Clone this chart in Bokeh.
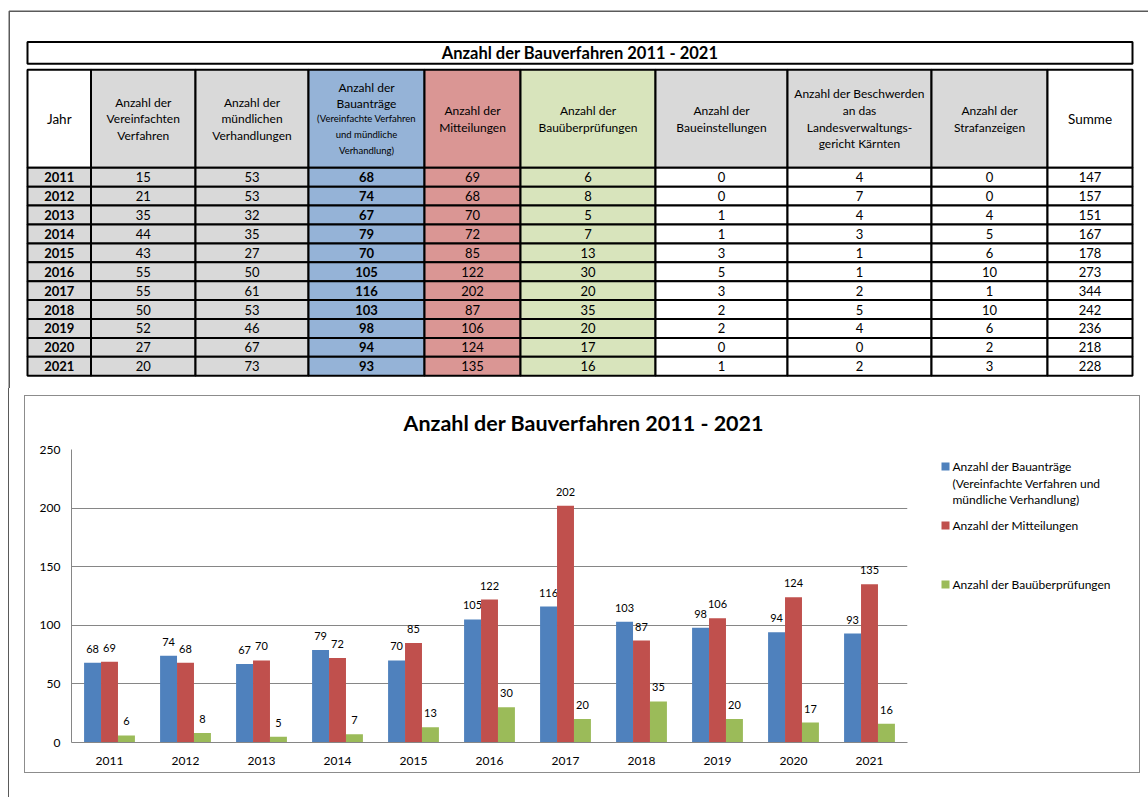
from bokeh.plotting import figure
from bokeh.models import (Range1d, ColumnDataSource, FactorRange, FixedTicker, Title)
from bokeh.transform import dodge
from bokeh.layouts import column, row
from bokeh.core.properties import value
from bokeh.embed import file_html
from bokeh.resources import INLINE

# ---------------- data ----------------
years = [2011, 2012, 2013, 2014, 2015, 2016, 2017, 2018, 2019, 2020, 2021]
vereinfacht = [15, 21, 35, 44, 43, 55, 55, 50, 52, 27, 20]
muendlich = [53, 53, 32, 35, 27, 50, 61, 53, 46, 67, 73]
bauantraege = [68, 74, 67, 79, 70, 105, 116, 103, 98, 94, 93]
mitteilungen = [69, 68, 70, 72, 85, 122, 202, 87, 106, 124, 135]
ueberpruefungen = [6, 8, 5, 7, 13, 30, 20, 35, 20, 17, 16]
einstellungen = [0, 0, 1, 1, 3, 5, 3, 2, 2, 0, 1]
beschwerden = [4, 7, 4, 3, 1, 1, 2, 5, 4, 0, 2]
strafanzeigen = [0, 0, 4, 5, 6, 10, 1, 10, 6, 2, 3]
summe = [147, 157, 151, 167, 178, 273, 344, 242, 236, 218, 228]

title_text = "Anzahl der Bauverfahren 2011 - 2021"
header_labels = [
    ["Jahr"],
    ["Anzahl der", "Vereinfachten", "Verfahren"],
    ["Anzahl der", "mündlichen", "Verhandlungen"],
    ["Anzahl der", "Bauanträge"],
    ["Anzahl der", "Mitteilungen"],
    ["Anzahl der", "Bauüberprüfungen"],
    ["Anzahl der", "Baueinstellungen"],
    ["Anzahl der Beschwerden", "an das", "Landesverwaltungs-", "gericht Kärnten"],
    ["Anzahl der", "Strafanzeigen"],
    ["Summe"],
]
header_sub = ["(Vereinfachte Verfahren", "und mündliche", "Verhandlung)"]
legend_labels = [["Anzahl der Bauanträge", "(Vereinfachte Verfahren und", "mündliche Verhandlung)"],
                 ["Anzahl der Mitteilungen"],
                 ["Anzahl der Bauüberprüfungen"]]

# ---------------- style / layout ----------------
FONT = "Lato"
WA, HA = 1148, 388
GRAY = "#D9D9D9"
BLUE_C = "#95B3D7"
RED_C = "#DA9694"
GREEN_C = "#D8E4BC"
WHITE = "#FFFFFF"
BAR_BLUE = "#4F81BD"
BAR_RED = "#C0504D"
BAR_GREEN = "#9BBB59"
FRAME_C = "#5a5a5a"
GRID_C = "#868686"

col_edges = [27, 90.5, 195, 308, 424, 520, 655, 787, 931, 1047, 1132]
title_top, title_bot = 41.5, 63.3
hdr_top, hdr_bot = 69.3, 167.3
row_h = 18.9
hdr_fill = [WHITE, GRAY, GRAY, BLUE_C, RED_C, GREEN_C, GRAY, GRAY, GRAY, WHITE]
row_fill = [GRAY, GRAY, GRAY, BLUE_C, RED_C, GREEN_C, WHITE, WHITE, WHITE, WHITE]

table_cols = [years, vereinfacht, muendlich, bauantraege, mitteilungen,
              ueberpruefungen, einstellungen, beschwerden, strafanzeigen, summe]

# ---------------- table figure ----------------
ta = figure(width=WA, height=HA, x_range=Range1d(0, WA), y_range=Range1d(HA, 0),
            x_axis_type=None, y_axis_type=None, output_backend="svg",
            toolbar_location=None, min_border=0, outline_line_color=None)

# page frame (left and top)
ta.line(x=[8.75, 8.75, WA], y=[HA, 10.7, 10.7], line_color=FRAME_C, line_width=1.5)

# title box
ta.quad(left=[col_edges[0]], right=[col_edges[-1]], top=[title_top], bottom=[title_bot],
        fill_color=WHITE, line_color="black", line_width=2)
ta.text(x=[(col_edges[0] + col_edges[-1]) / 2], y=[(title_top + title_bot) / 2 + 0.5], text=[title_text],
        text_align="center", text_baseline="middle", text_font=value(FONT),
        text_font_style="bold", text_font_size="16.5px", text_color="black")

cl, cr, ct, cb, cf = [], [], [], [], []
for j in range(10):
    cl.append(col_edges[j]); cr.append(col_edges[j + 1]); ct.append(hdr_top); cb.append(hdr_bot)
    cf.append(hdr_fill[j])
for i in range(len(years)):
    for j in range(10):
        cl.append(col_edges[j]); cr.append(col_edges[j + 1])
        ct.append(hdr_bot + row_h * i); cb.append(hdr_bot + row_h * (i + 1))
        cf.append(row_fill[j])
ta.quad(left=cl, right=cr, top=ct, bottom=cb, fill_color=cf, line_color="black", line_width=2)

# header texts
hx, hy, ht, hs = [], [], [], []
hmid = (hdr_top + hdr_bot) / 2
for j, lines in enumerate(header_labels):
    xc = (col_edges[j] + col_edges[j + 1]) / 2
    if j == 3:
        all_lines = lines + header_sub
        sp = 15.7
        sizes = ["12px", "12px", "9.5px", "9.5px", "9.5px"]
    else:
        all_lines = lines
        sp = 16.7
        sizes = ["13.5px" if len(lines) == 1 else "12px"] * len(lines)
    n = len(all_lines)
    for k, t in enumerate(all_lines):
        hx.append(xc); hy.append(hmid + (k - (n - 1) / 2) * sp); ht.append(t); hs.append(sizes[k])
ta.text(x=hx, y=hy, text=ht, text_font_size=hs, text_align="center", text_baseline="middle",
        text_font=value(FONT), text_color="black")

# data texts
nx, ny, nt = [], [], []
bx, by, bt = [], [], []
for i in range(len(years)):
    yc = hdr_bot + row_h * (i + 0.5)
    for j in range(10):
        xc = (col_edges[j] + col_edges[j + 1]) / 2
        if j in (0, 3):
            bx.append(xc); by.append(yc); bt.append(str(table_cols[j][i]))
        else:
            nx.append(xc); ny.append(yc); nt.append(str(table_cols[j][i]))
ta.text(x=nx, y=ny, text=nt, text_align="center", text_baseline="middle",
        text_font=value(FONT), text_font_size="13px", text_color="black")
ta.text(x=bx, y=by, text=bt, text_align="center", text_baseline="middle",
        text_font=value(FONT), text_font_size="13px", text_font_style="bold", text_color="black")

# ---------------- chart figure ----------------
WB, HB = 892, 376
FL, FR, FT, FB = 46, 882, 53, 346
cats = [str(y) for y in years]
src = ColumnDataSource(dict(
    year=cats, antraege=bauantraege, mitt=mitteilungen, ueber=ueberpruefungen,
    l_a=[str(v) for v in bauantraege], l_m=[str(v) for v in mitteilungen],
    l_u=[str(v) for v in ueberpruefungen]))

ch = figure(width=WB, height=HB, x_range=FactorRange(factors=cats, range_padding=0),
            y_range=Range1d(0, 250), output_backend="svg", toolbar_location=None,
            min_border_left=FL, min_border_right=WB - FR, min_border_top=FT,
            min_border_bottom=HB - FB, outline_line_color=None)

ch.title = Title(text=title_text, align="left", offset=332, standoff=24, vertical_align="top",
                 text_font=FONT, text_font_size="21.5px", text_font_style="bold",
                 text_color="black")

bw = 0.223
series = [("antraege", "l_a", -bw, BAR_BLUE), ("mitt", "l_m", 0.0, BAR_RED), ("ueber", "l_u", bw, BAR_GREEN)]
for col, lab, off, colr in series:
    ch.vbar(x=dodge("year", off, range=ch.x_range), top=col, width=bw, source=src,
            fill_color=colr, line_color=None)
    ch.text(x=dodge("year", off, range=ch.x_range), y=col, text=lab, source=src,
            text_align="center", text_baseline="middle", y_offset=-14,
            text_font=value(FONT), text_font_size="11px", text_color="black")

ch.yaxis.ticker = FixedTicker(ticks=[0, 50, 100, 150, 200, 250])
for ax in (ch.xaxis, ch.yaxis):
    ax.major_tick_line_color = None
    ax.minor_tick_line_color = None
    ax.major_tick_out = 0
    ax.major_tick_in = 0
    ax.axis_line_color = GRID_C
    ax.major_label_text_font = FONT
    ax.major_label_text_font_size = "12px"
    ax.major_label_text_color = "black"
ch.yaxis.major_label_standoff = 11
ch.xaxis.major_label_standoff = 14
ch.xgrid.grid_line_color = None
ch.ygrid.grid_line_color = GRID_C

# ---------------- legend panel ----------------
WC = 1114 - WB
LX0 = 917
lg = figure(width=WC, height=HB, x_range=Range1d(LX0, LX0 + WC), y_range=Range1d(772, 396),
            x_axis_type=None, y_axis_type=None, output_backend="svg", toolbar_location=None,
            min_border=0, outline_line_color=None)
leg_colors = [BAR_BLUE, BAR_RED, BAR_GREEN]
leg_y = [466, 525, 584]
lg.quad(left=[941] * 3, right=[949] * 3, top=[y - 4 for y in leg_y], bottom=[y + 4 for y in leg_y],
        fill_color=leg_colors, line_color=None)
tx, ty, tt = [], [], []
for y0, lines in zip(leg_y, legend_labels):
    for k, t in enumerate(lines):
        tx.append(952); ty.append(y0 + k * 16.5); tt.append(t)
lg.text(x=tx, y=ty, text=tt, text_align="left", text_baseline="middle",
        text_font=value(FONT), text_font_size="12px", text_color="black")

chart_box = row(column(ch), column(lg), styles={"border": "1px solid #8c8c8c"})
wrap_b = column(chart_box, styles={"margin-left": "8px", "border-left": "1.5px solid " + FRAME_C,
                                   "padding-left": "14.5px", "padding-top": "7px",
                                   "padding-bottom": "24px"})
layout = column(column(ta), wrap_b)
open("out.html", "w").write(file_html(layout, INLINE))
